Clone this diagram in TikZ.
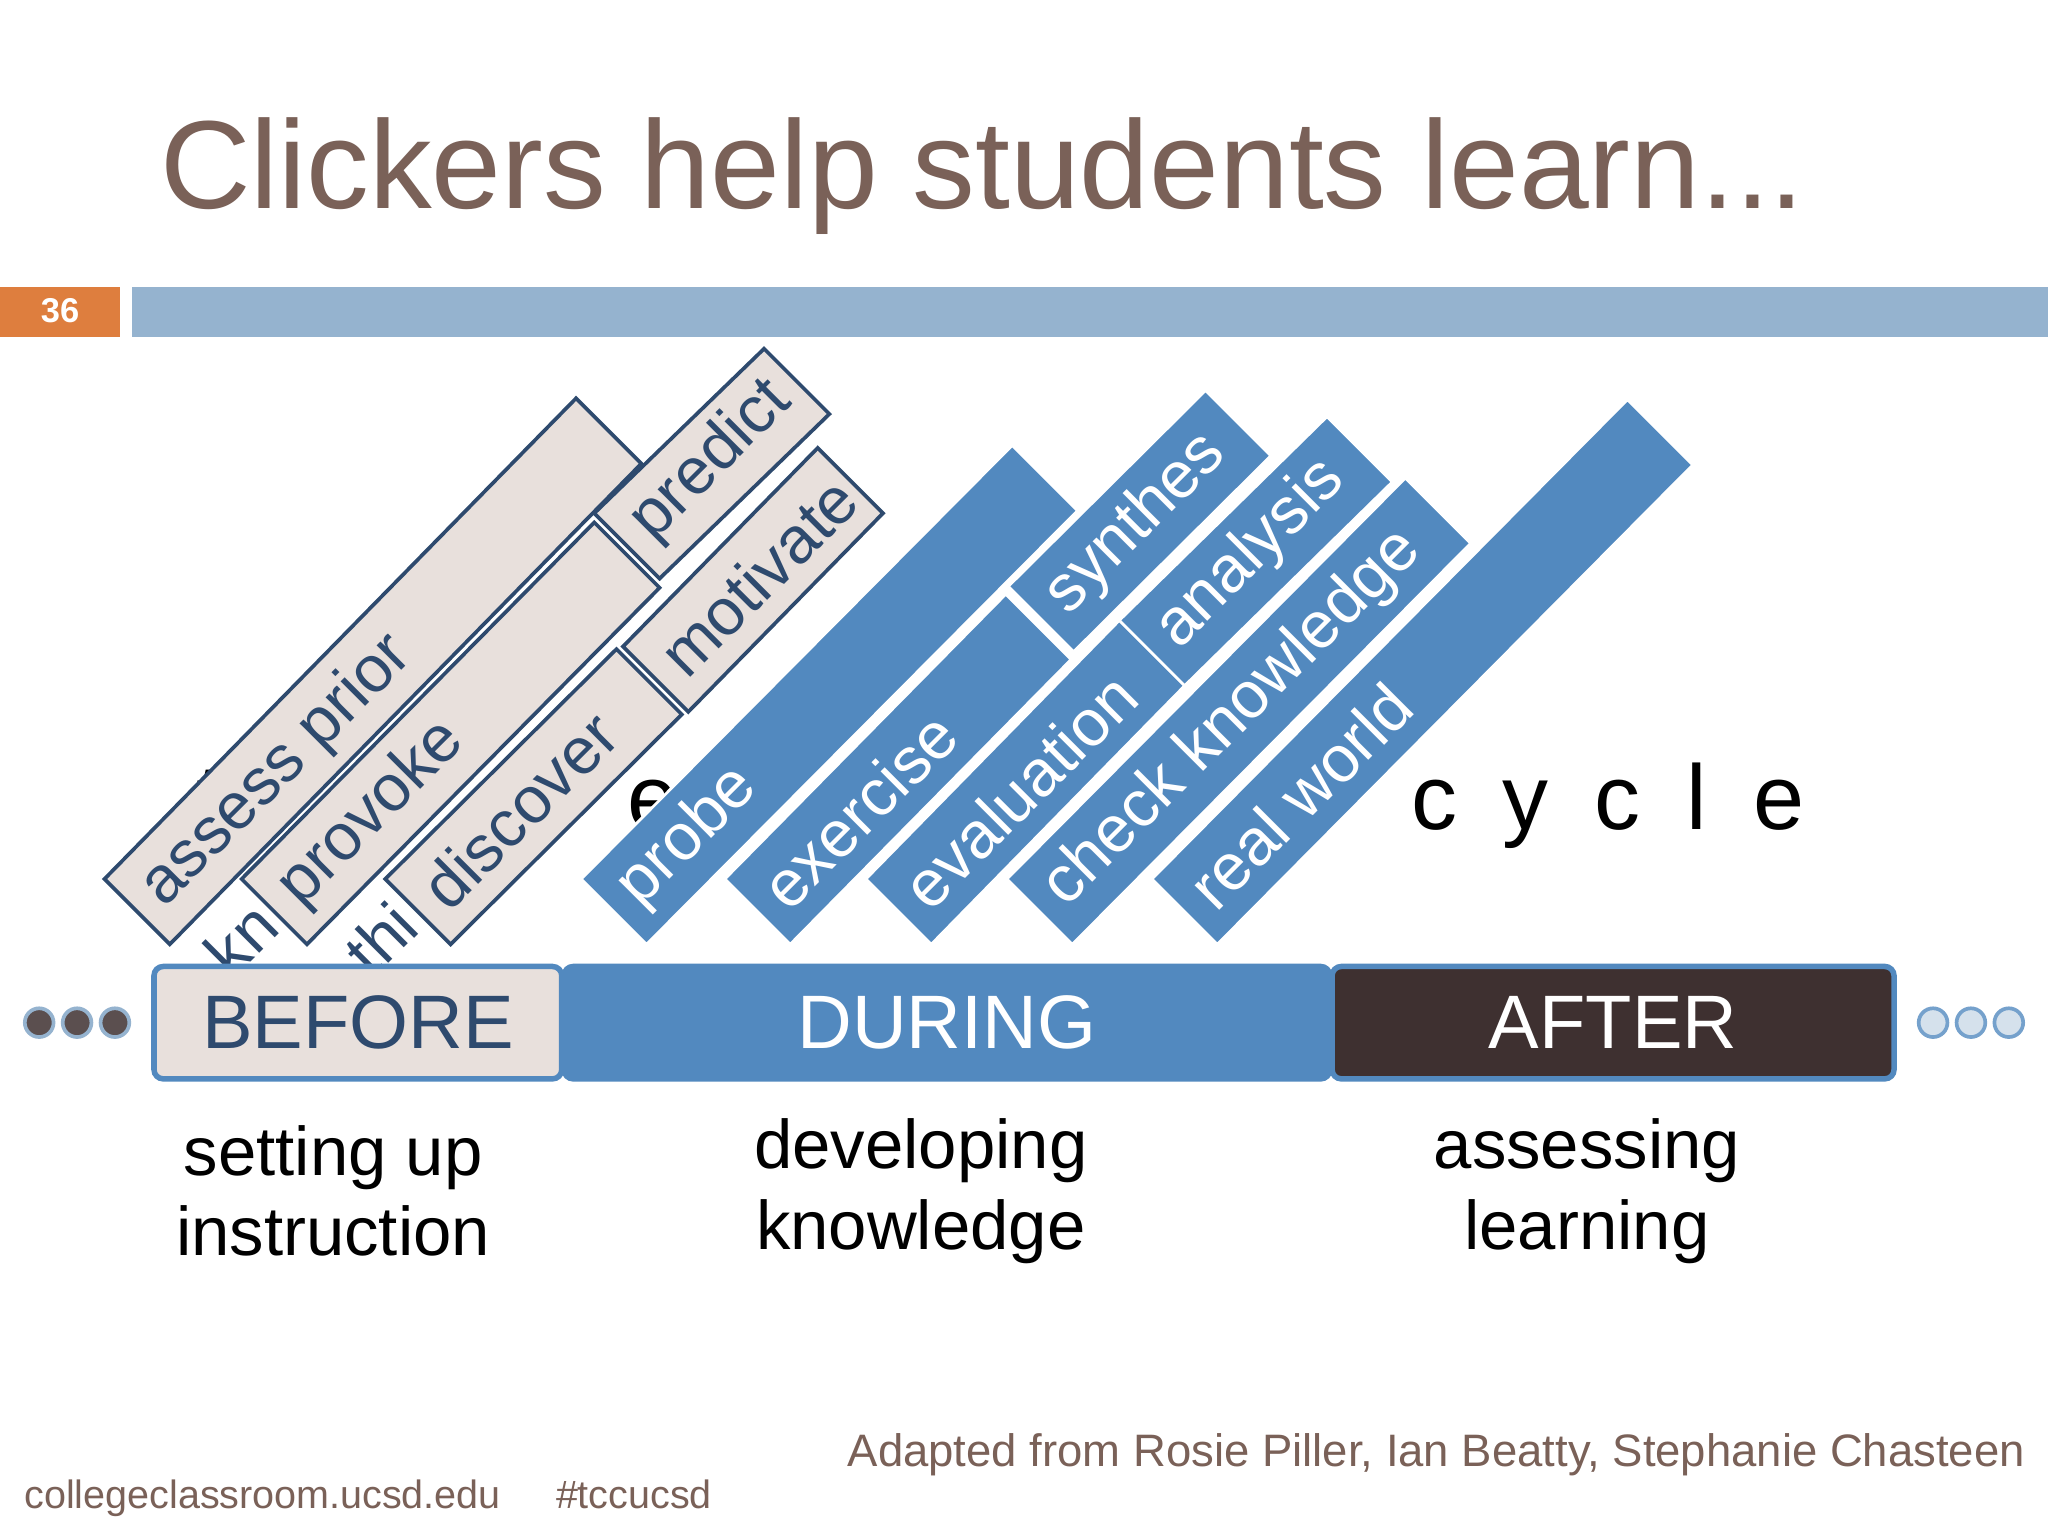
\documentclass[tikz,border=0pt]{standalone}
\usepackage{fontspec}
\setmainfont{Liberation Sans}
\usetikzlibrary{calc}
\definecolor{titlec}{HTML}{7A6158}
\definecolor{beige}{HTML}{E8E0DC}
\definecolor{navy}{HTML}{2E4A6E}
\definecolor{bblue}{HTML}{5289BF}
\definecolor{topbar}{HTML}{95B3CF}
\definecolor{orng}{HTML}{DE7E3E}
\definecolor{dark}{HTML}{3E3030}
\tikzset{
  beigebar/.style={fill=beige,draw=navy,line width=0.8pt},
  bluebar/.style={fill=bblue,draw=white,line width=0.6pt},
  beigetext/.style={text=navy,font=\fontsize{14.3}{16}\selectfont,inner sep=0pt},
  bluetext/.style={text=white,font=\fontsize{14.3}{16}\selectfont,inner sep=0pt},
  phase/.style={minimum height=0.86cm,inner sep=0pt,font=\fontsize{16.5}{18}\selectfont,rounded corners=2pt,line width=1.2pt},
  sub/.style={align=center,font=\fontsize{15}{17.5}\selectfont,inner sep=0pt},
  ldot/.style={circle,minimum size=0.22cm,inner sep=0pt,fill=dark!85,draw=topbar,line width=0.8pt},
  rdot/.style={circle,minimum size=0.22cm,inner sep=0pt,fill=topbar!40,draw=bblue!80,line width=0.8pt},
}
\newcommand\mybar[6]{%
  \path (#2,{1176-#3}) coordinate (l) (#4,{1176-#5}) coordinate (u);
  \draw[#1bar] ($(l)+(-25,25)$) -- ($(u)+(-25,25)$) -- ($(u)+(25,-25)$) -- ($(l)+(25,-25)$) -- cycle;
  \node[#1text,rotate=45,anchor=west] at ($(l)+(11,11)$) {#6};
}
\begin{document}
\begin{tikzpicture}[x=0.01cm,y=0.01cm]
\fill[white] (0,0) rectangle (1568,1176);
\node[anchor=base west,text=titlec,font=\fontsize{27.3}{30}\selectfont,inner sep=0pt] (title) at (122,{1176-160}) {Clickers help students learn...};
\fill[orng] (0,{1176-220}) rectangle (92,{1176-258});
\node[text=white,font=\bfseries\fontsize{7.5}{9}\selectfont] (num) at (46,{1176-238}) {36};
\fill[topbar] (101,{1176-220}) rectangle (1568,{1176-258});
% hidden phrase
\begin{scope}[font=\fontsize{20}{24}\selectfont]
\node[anchor=base west,inner sep=0pt] (t1) at (150,{1176-635}) {t};
\node[anchor=base west,inner sep=0pt] (t2) at (480,{1176-635}) {e};
\node[anchor=base east,inner sep=0pt] (t3) at (1382,{1176-635}) {c\,\,\,y\,\,\,c\,\,\,l\,\,\,e};
\end{scope}
% beige bars
\mybar{beige}{105}{698}{466}{330}{assess prior}
\node[beigetext,rotate=45,anchor=west] (kn) at (165,{1176-738}) {kn};
\mybar{beige}{210}{698}{480}{425}{provoke}
\node[beigetext,rotate=45,anchor=west] (thi) at (272,{1176-738}) {thi};
\mybar{beige}{320}{698}{497}{522}{discover}
\mybar{beige}{480}{418}{610}{292}{predict}
\mybar{beige}{502}{520}{651}{368}{motivate}
% blue bars
\mybar{blue}{470}{698}{800}{366}{probe}
\mybar{blue}{580}{698}{795}{480}{exercise}
\mybar{blue}{797}{474}{948}{324}{synthes}
\mybar{blue}{688}{698}{882}{500}{evaluation}
\mybar{blue}{882}{500}{1041}{344}{analysis}
\mybar{blue}{796}{698}{1101}{391}{check knowledge}
\mybar{blue}{907}{698}{1271}{331}{real world}
% timeline
\node[phase,fill=beige,draw=bblue,text=navy,minimum width=3.12cm] (before) at (274,{1176-783}) {BEFORE};
\node[phase,fill=bblue,draw=bblue,text=white,minimum width=5.86cm] (during) at (725,{1176-783}) {DURING};
\node[phase,fill=dark,draw=bblue,text=white,minimum width=4.30cm] (after) at (1235,{1176-783}) {AFTER};
\node[ldot] (l1) at (30,{1176-783}) {};
\node[ldot] (l2) at (59,{1176-783}) {};
\node[ldot] (l3) at (88,{1176-783}) {};
\node[rdot] (r1) at (1480,{1176-783}) {};
\node[rdot] (r2) at (1509,{1176-783}) {};
\node[rdot] (r3) at (1538,{1176-783}) {};
\node[sub] (s1) at (255,{1176-912}) {setting up\\instruction};
\node[sub] (s2) at (705,{1176-912}) {developing\\knowledge};
\node[sub] (s3) at (1215,{1176-912}) {assessing\\learning};
\node[anchor=base east,text=titlec,font=\fontsize{9.9}{12}\selectfont,inner sep=0pt] (cred) at (1551,{1176-1123}) {Adapted from Rosie Piller, Ian Beatty, Stephanie Chasteen};
\node[anchor=base west,text=titlec,font=\fontsize{8.6}{10}\selectfont,inner sep=0pt] (site) at (18,{1176-1155}) {collegeclassroom.ucsd.edu};
\node[anchor=base west,text=titlec,font=\fontsize{8.6}{10}\selectfont,inner sep=0pt] (tag) at (425,{1176-1155}) {\#tccucsd};
\end{tikzpicture}
\end{document}
